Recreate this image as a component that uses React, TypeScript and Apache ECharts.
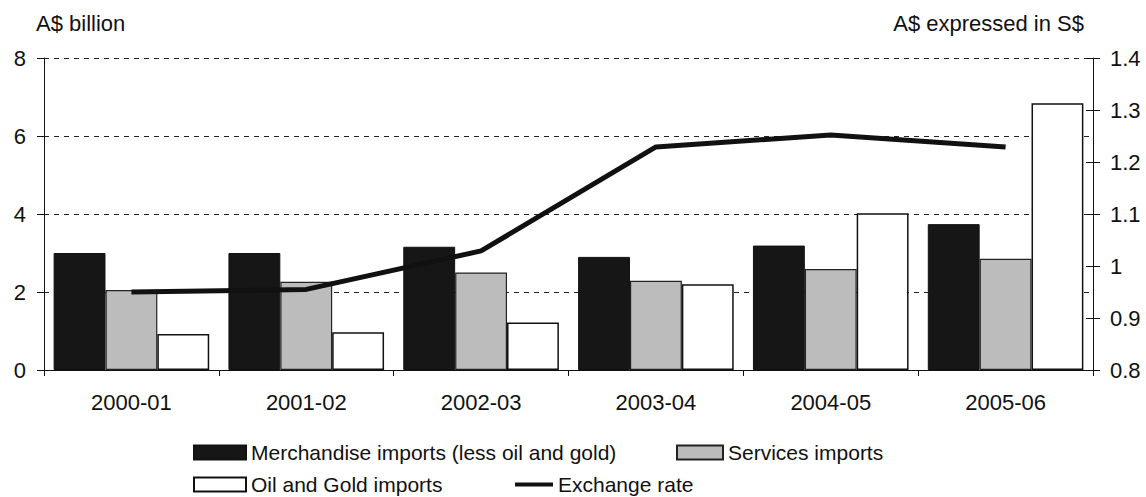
import React, { useEffect, useRef } from "react";
import * as echarts from "echarts";

const years = ["2000-01", "2001-02", "2002-03", "2003-04", "2004-05", "2005-06"];
const merchandise = [3.0, 3.0, 3.16, 2.9, 3.19, 3.74];
const services = [2.05, 2.26, 2.5, 2.29, 2.59, 2.85];
const oilGold = [0.92, 0.97, 1.22, 2.2, 4.02, 6.84];
const exchangeRate = [0.95, 0.955, 1.029, 1.229, 1.252, 1.229];

const FONT = "Liberation Sans, Arial, sans-serif";

export default function App() {
  const ref = useRef<HTMLDivElement>(null);

  useEffect(() => {
    if (!ref.current) return;
    const chart = echarts.init(ref.current, undefined, { renderer: "svg" });
    const legendText = { fontFamily: FONT, fontSize: 21, color: "#111" };
    const legendBase = { padding: 0, selectedMode: false, textStyle: legendText, icon: "rect" };
    chart.setOption({
      animation: false,
      backgroundColor: "#fff",
      textStyle: { fontFamily: FONT },
      grid: { left: 44, right: 53, top: 58, bottom: 127 },
      graphic: [
        {
          type: "text",
          left: 36,
          top: 12,
          style: { text: "A$ billion", font: `22px ${FONT}`, fill: "#111" },
        },
        {
          type: "text",
          right: 62,
          top: 12,
          style: { text: "A$ expressed in S$", font: `22px ${FONT}`, fill: "#111" },
        },
      ],
      legend: [
        {
          ...legendBase,
          left: 193,
          top: 442,
          itemWidth: 52,
          itemHeight: 14,
          data: ["Merchandise imports (less oil and gold)"],
        },
        {
          ...legendBase,
          left: 676,
          top: 442,
          itemWidth: 46,
          itemHeight: 14,
          data: ["Services imports"],
        },
        {
          ...legendBase,
          left: 193,
          top: 474,
          itemWidth: 52,
          itemHeight: 14,
          data: ["Oil and Gold imports"],
        },
        {
          ...legendBase,
          left: 515,
          top: 474,
          itemWidth: 38,
          itemHeight: 4,
          data: ["Exchange rate"],
        },
      ],
      xAxis: {
        type: "category",
        data: years,
        axisLine: { lineStyle: { color: "#111", width: 1 } },
        axisTick: { show: true, length: 6, lineStyle: { color: "#111" } },
        axisLabel: { fontSize: 22, color: "#111", margin: 21, fontFamily: FONT },
      },
      yAxis: [
        {
          type: "value",
          min: 0,
          max: 8,
          interval: 2,
          axisLine: { show: true, lineStyle: { color: "#111", width: 1 } },
          axisTick: { show: true, length: 7, lineStyle: { color: "#111" } },
          axisLabel: { fontSize: 22, color: "#111", margin: 18, fontFamily: FONT },
          splitLine: {
            show: true,
            lineStyle: { color: "#222", type: [5, 5], width: 1 },
          },
        },
        {
          type: "value",
          min: 0.8,
          max: 1.4,
          interval: 0.1,
          position: "right",
          axisLine: { show: true, lineStyle: { color: "#111", width: 1 } },
          axisTick: { show: true, length: 7, lineStyle: { color: "#111" } },
          axisLabel: {
            fontSize: 22,
            color: "#111",
            margin: 17,
            fontFamily: FONT,
            formatter: (v: number) => String(Math.round(v * 10) / 10),
          },
          splitLine: { show: false },
        },
        {
          // inner half of the right-hand cross ticks
          type: "value",
          min: 0.8,
          max: 1.4,
          interval: 0.1,
          position: "right",
          axisLine: { show: false },
          axisTick: { show: true, inside: true, length: 7, lineStyle: { color: "#111" } },
          axisLabel: { show: false },
          splitLine: { show: false },
        },
      ],
      series: [
        {
          name: "Merchandise imports (less oil and gold)",
          type: "bar",
          data: merchandise,
          barGap: "0%",
          barCategoryGap: "11%",
          itemStyle: { color: "#161616", borderColor: "#111", borderWidth: 1 },
        },
        {
          name: "Services imports",
          type: "bar",
          data: services,
          itemStyle: { color: "#bcbcbc", borderColor: "#222", borderWidth: 1.2 },
        },
        {
          name: "Oil and Gold imports",
          type: "bar",
          data: oilGold,
          itemStyle: { color: "#ffffff", borderColor: "#111", borderWidth: 1.5 },
        },
        {
          name: "Exchange rate",
          type: "line",
          yAxisIndex: 1,
          data: exchangeRate,
          symbol: "none",
          lineStyle: { color: "#111", width: 5 },
          itemStyle: { color: "#111" },
          z: 5,
        },
      ],
    });
    return () => chart.dispose();
  }, []);

  return (
    <div
      ref={ref}
      style={{ position: "fixed", left: 0, top: 0, width: 1146, height: 497, background: "#fff" }}
    />
  );
}
